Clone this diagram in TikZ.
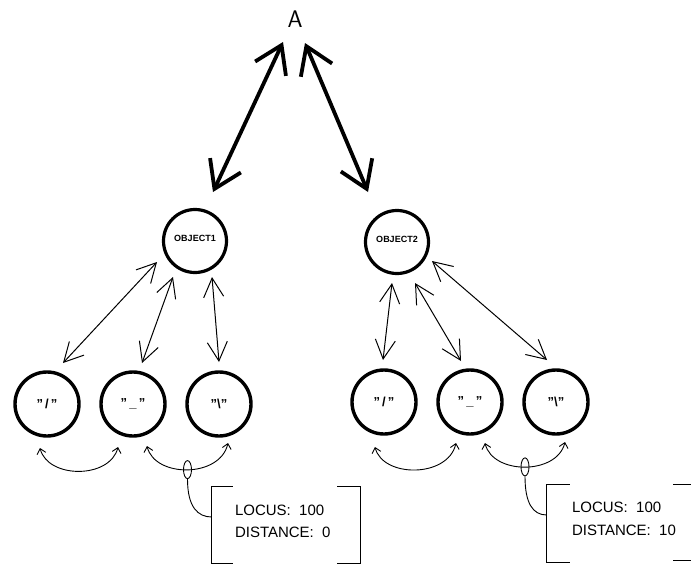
\documentclass[tikz,border=0pt]{standalone}
\usepackage{fontspec}
\setmainfont{Liberation Sans}
\usetikzlibrary{arrows.meta,calc,shapes.geometric}
% straight double quote
\newcommand{\dq}{\symbol{34}}
\begin{document}
\begin{tikzpicture}[x=1pt,y=-1pt,
  bigarrow/.style={line width=3.8pt,line join=miter,
    {Straight Barb[length=26pt,width=34pt]}-{Straight Barb[length=26pt,width=34pt]}},
  linkarrow/.style={line width=1pt,
    {Straight Barb[length=19pt,width=20pt]}-{Straight Barb[length=19pt,width=20pt]}},
  swaparrow/.style={line width=0.9pt,
    {Straight Barb[length=5pt,width=9pt]}-{Straight Barb[length=5pt,width=9pt]}},
  objnode/.style={circle,draw,line width=3.2pt,minimum size=63pt,inner sep=0pt,
    font=\bfseries\fontsize{9}{10}\selectfont},
  glyphnode/.style={circle,draw,line width=3.4pt,minimum size=64pt,inner sep=0pt,
    font=\bfseries\fontsize{13}{13}\selectfont},
  tagmark/.style={ellipse,draw,line width=0.9pt,minimum width=8pt,minimum height=18pt,inner sep=0pt},
  boxframe/.style={rectangle,inner sep=0pt},
  infotext/.style={anchor=base west,inner sep=0pt,font=\fontsize{15}{18}\selectfont},
  bracket/.style={line width=1.2pt},
  leader/.style={line width=0.9pt}
]
\useasboundingbox (0,0) rectangle (691,565);

% top label and the two objects
\node[inner sep=0pt,font=\sffamily\fontsize{24}{24}\selectfont] (A) at (295,19) {A};
\node[objnode] (o1) at (195,241) {\raisebox{5pt}{OBJECT1}};
\node[objnode] (o2) at (397,242) {\raisebox{5pt}{OBJECT2}};

% glyph circles
\node[glyphnode] (l1) at (47,404)  {\dq\,/\,\dq};
\node[glyphnode] (l2) at (133,404) {\dq\,\_\,\dq};
\node[glyphnode] (l3) at (219,404) {\dq\textbackslash\dq};
\node[glyphnode] (r1) at (384,402) {\dq\,/\,\dq};
\node[glyphnode] (r2) at (470,402) {\dq\,\_\,\dq};
\node[glyphnode] (r3) at (556,402) {\dq\textbackslash\dq};

% heavy links from A to the objects
\coordinate (Aleft)  at ($(A)+(-12,23)$);
\coordinate (Aright) at ($(A)+(10,24)$);
\coordinate (o1top)  at ($(o1)+(18,-49)$);
\coordinate (o2top)  at ($(o2)+(-29,-50)$);
\draw[bigarrow] (Aleft) -- (o1top);
\draw[bigarrow] (Aright) -- (o2top);

% object-to-glyph links
\coordinate (l1u) at ($(l1)+(16,-41)$);  \coordinate (o1a) at ($(o1)+(-38,21)$);
\coordinate (l2u) at ($(l2)+(9,-41)$);   \coordinate (o1b) at ($(o1)+(-22,36)$);
\coordinate (l3u) at ($(l3)+(0,-42)$);   \coordinate (o1c) at ($(o1)+(17,36)$);
\coordinate (r1u) at ($(r1)+(-1,-42)$);  \coordinate (o2a) at ($(o2)+(-5,41)$);
\coordinate (r2u) at ($(r2)+(-9,-41)$);  \coordinate (o2b) at ($(o2)+(18,41)$);
\coordinate (r3u) at ($(r3)+(-9,-42)$);  \coordinate (o2c) at ($(o2)+(35,19)$);
\draw[linkarrow] (l1u) -- (o1a);
\draw[linkarrow] (l2u) -- (o1b);
\draw[linkarrow] (l3u) -- (o1c);
\draw[linkarrow] (r1u) -- (o2a);
\draw[linkarrow] (r2u) -- (o2b);
\draw[linkarrow] (r3u) -- (o2c);

% neighbour swaps under the glyphs
\coordinate (l1d)  at ($(l1)+(-7,44)$);
\coordinate (l2dl) at ($(l2)+(-15,43)$);
\coordinate (l2dr) at ($(l2)+(14,42)$);
\coordinate (l3d)  at ($(l3)+(9,39)$);
\coordinate (r1d)  at ($(r1)+(-9,45)$);
\coordinate (r2dl) at ($(r2)+(-14,41)$);
\coordinate (r2dr) at ($(r2)+(15,41)$);
\coordinate (r3d)  at ($(r3)+(9,40)$);
\draw[swaparrow] (l1d) .. controls +(8,31) and +(-8,32) .. (l2dl);
\draw[swaparrow] (l2dr) .. controls +(8,32) and +(-8,35) .. (l3d)
  node[tagmark,pos=0.5] (e1) {};
\draw[swaparrow] (r1d) .. controls +(8,31) and +(-8,35) .. (r2dl);
\draw[swaparrow] (r2dr) .. controls +(8,32) and +(-8,33) .. (r3d)
  node[tagmark,pos=0.5] (e2) {};

% left info box
\node[boxframe,minimum width=148pt,minimum height=76pt] (b1) at (286,525) {};
\node[infotext] (t1a) at ($(b1.west)+(23,-10)$) {LOCUS:~~100};
\node[infotext] (t1b) at ($(b1.west)+(23,12)$) {DISTANCE:~~0};
\draw[bracket] ($(b1.north west)+(21,0)$) -| (b1.south west) -- ++(21,0);
\draw[bracket] ($(b1.north east)+(-23,0)$) -| (b1.south east) -- ++(-23,0);
\coordinate (b1in) at ($(b1.west)+(0,-8)$);
\draw[leader] (e1.south) .. controls +(0,28) and +(-14,0) .. (b1in);

% right info box (its right side runs past the edge)
\node[boxframe,minimum width=144pt,minimum height=77pt] (b2) at (619,523.5) {};
\node[infotext] (t2a) at ($(b2.west)+(25,-11.5)$) {LOCUS:~~100};
\node[infotext] (t2b) at ($(b2.west)+(25,11.5)$) {DISTANCE:~~10};
\draw[bracket] ($(b2.north west)+(23,0)$) -| (b2.south west) -- ++(23,0);
\draw[bracket] (b2.north east) -- ++(-18,0);
\draw[bracket] ($(b2.south east)+(0,-2)$) -- ++(-18,0);
\coordinate (b2in) at ($(b2.west)+(0,-8.5)$);
\draw[leader] (e2.south) .. controls +(0,27) and +(-14,0) .. (b2in);
\end{tikzpicture}
\end{document}
